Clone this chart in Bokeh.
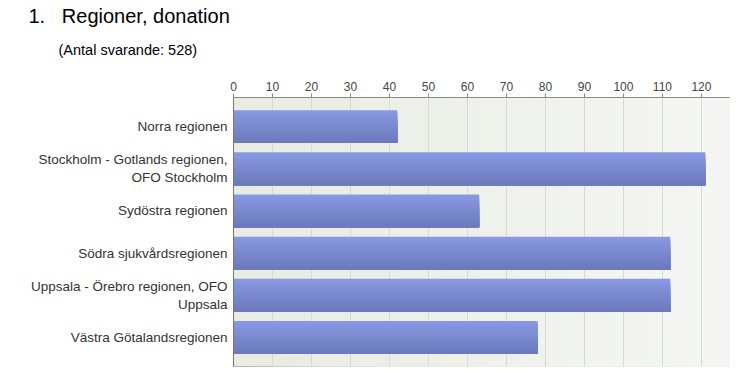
from bokeh.plotting import figure
from bokeh.models import Range1d, FixedTicker, Title, BoxAnnotation
from bokeh.embed import file_html
from bokeh.resources import INLINE

categories = ["Norra regionen",
              "Stockholm - Gotlands regionen,\nOFO Stockholm",
              "Sydöstra regionen",
              "Södra sjukvårdsregionen",
              "Uppsala - Örebro regionen, OFO\nUppsala",
              "Västra Götalandsregionen"]
values = [42, 121, 63, 112, 112, 78]
x_ticks = [0, 10, 20, 30, 40, 50, 60, 70, 80, 90, 100, 110, 120]
title = "1.\u00a0\u00a0 Regioner, donation"
subtitle = "(Antal svarande: 528)"

FONT = "Liberation Sans"
X_MAX = 127.2

p = figure(width=747, height=379, output_backend="svg", toolbar_location=None,
           x_axis_location="above",
           x_range=Range1d(0, X_MAX), y_range=Range1d(5.69, -0.69),
           min_border_left=233, min_border_right=18, min_border_top=97, min_border_bottom=13)
p.background_fill_color = "#eef0ea"
p.border_fill_color = "white"
p.outline_line_color = "#a8a8a8"

# horizontal background gradient (nested boxes, each reaching the right edge)
NB = 24
left_c = (0xe8, 0xec, 0xe3)
right_c = (0xf5, 0xf6, 0xf3)
for k in range(NB):
    t = k / (NB - 1)
    c = tuple(int(round(left_c[i] + (right_c[i] - left_c[i]) * t)) for i in range(3))
    p.add_layout(BoxAnnotation(left=X_MAX * k / NB, right=X_MAX * 1.01,
                               fill_color="#%02x%02x%02x" % c, fill_alpha=1.0,
                               line_color=None, level="image"))

# gradient bars: nested rectangles, each starting lower and reaching the bar bottom
idx = list(range(len(categories)))
h = 0.78
N = 16
top_c = (0x88, 0x98, 0xe2)
bot_c = (0x6c, 0x7a, 0xbc)
for k in range(N):
    t = k / (N - 1)
    c = tuple(int(round(top_c[i] + (bot_c[i] - top_c[i]) * t)) for i in range(3))
    col = "#%02x%02x%02x" % c
    tops = [i - h / 2 + k * h / N for i in idx]
    bots = [i + h / 2 for i in idx]
    p.hbar(y=[(a + b) / 2 for a, b in zip(tops, bots)], right=values, left=0,
           height=h - k * h / N, fill_color=col, line_color=None)

p.xgrid.ticker = FixedTicker(ticks=x_ticks)
p.xgrid.grid_line_color = "#d8dbd4"
p.ygrid.grid_line_color = None

xa = p.xaxis[0]
xa.ticker = FixedTicker(ticks=x_ticks)
xa.major_label_text_font = FONT
xa.major_label_text_font_size = "12px"
xa.major_label_text_color = "#444444"
xa.axis_line_color = "#8a8a8a"
xa.major_tick_line_color = "#8a8a8a"
xa.major_tick_out = 4
xa.major_tick_in = 0
xa.minor_tick_line_color = None
xa.major_label_standoff = 3

ya = p.yaxis[0]
ya.ticker = FixedTicker(ticks=idx)
ya.major_label_overrides = {i: categories[i] for i in idx}
ya.major_label_text_font = FONT
ya.major_label_text_font_size = "13.5px"
ya.major_label_text_color = "#333333"
ya.axis_line_color = "#777777"
ya.major_tick_line_color = None
ya.major_tick_out = 0
ya.major_tick_in = 0
ya.minor_tick_line_color = None
ya.major_label_standoff = 6

p.add_layout(Title(text=subtitle, text_font=FONT, text_font_size="14.5px",
                   text_font_style="normal", text_color="black",
                   align="left", offset=-175, standoff=42), "above")
p.add_layout(Title(text=title, text_font=FONT, text_font_size="20px",
                   text_font_style="normal", text_color="black",
                   align="left", offset=-205, standoff=-16), "above")

open("out.html", "w").write(file_html(p, INLINE))
